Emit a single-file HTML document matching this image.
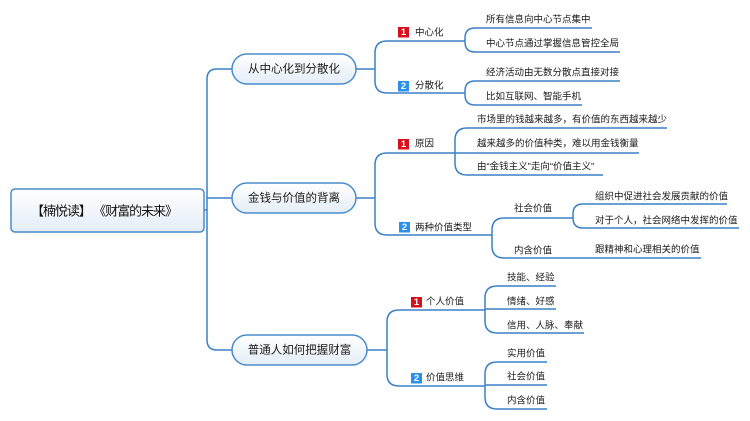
<!DOCTYPE html>
<html><head><meta charset="utf-8">
<style>
html,body{margin:0;padding:0;background:#fff;}
svg{display:block;}
text{font-family:"Liberation Sans","Noto Sans CJK SC",sans-serif;fill:#1a1a1a;}
.s{font-size:9.5px;}
.m{font-size:11.5px;}
.b{font-size:9.5px;font-weight:bold;fill:#fff;}
</style></head>
<body>
<svg width="750" height="421" viewBox="0 0 750 421" xmlns="http://www.w3.org/2000/svg">
<defs>
<linearGradient id="g" x1="0" y1="0" x2="0" y2="1">
<stop offset="0" stop-color="#ffffff"/>
<stop offset="1" stop-color="#e4edf7"/>
</linearGradient>
</defs>
<g fill="none" stroke="#3b80c6" stroke-width="1.5">
<path d="M232 69 H217 Q207 69 207 79 V340 Q207 350 217 350 H232"/>
<path d="M207 198 H232"/>
<path d="M204 210 H207"/>
<path d="M356 69 H375"/>
<path d="M465 41 H387 Q375 41 375 53 V81 Q375 93 387 93 H465"/>
<path d="M592 28 H475 Q465 28 465 38 V42 Q465 52 475 52 H620"/>
<path d="M620 81 H475 Q465 81 465 91 V95 Q465 105 475 105 H582"/>
<path d="M356 198 H375"/>
<path d="M455 153 H387 Q375 153 375 165 V223 Q375 235 387 235 H492"/>
<path d="M667 128 H467 Q455 128 455 140 V163 Q455 175 467 175 H603"/>
<path d="M455 153 H639"/>
<path d="M573 218 H504 Q492 218 492 230 V246 Q492 258 504 258 H701"/>
<path d="M727 204 H583 Q573 204 573 214 V218 Q573 228 583 228 H739"/>
<path d="M367 350 H387"/>
<path d="M485 310 H399 Q387 310 387 322 V374 Q387 386 399 386 H485"/>
<path d="M556 286 H497 Q485 286 485 298 V321 Q485 333 497 333 H584"/>
<path d="M485 309 H556"/>
<path d="M547 362 H497 Q485 362 485 374 V397 Q485 409 497 409 H547"/>
<path d="M485 385 H547"/>
</g>
<rect x="11" y="189" width="193" height="43" rx="4" fill="url(#g)" stroke="#4a8ccb" stroke-width="1.5"/>
<text x="31" y="211" dominant-baseline="central" textLength="147" lengthAdjust="spacing" style="font-size:13px;fill:#111">【楠悦读】 《财富的未来》</text>
<rect x="232" y="54" width="124" height="30" rx="15" fill="url(#g)" stroke="#4a8ccb" stroke-width="1.5"/>
<text class="m" x="294" y="69.5" text-anchor="middle" dominant-baseline="central">从中心化到分散化</text>
<rect x="232" y="183" width="124" height="30" rx="15" fill="url(#g)" stroke="#4a8ccb" stroke-width="1.5"/>
<text class="m" x="294" y="198.5" text-anchor="middle" dominant-baseline="central">金钱与价值的背离</text>
<rect x="232" y="335" width="135" height="30" rx="15" fill="url(#g)" stroke="#4a8ccb" stroke-width="1.5"/>
<text class="m" x="299.5" y="350.5" text-anchor="middle" dominant-baseline="central">普通人如何把握财富</text>
<rect x="398" y="27" width="11" height="10.5" fill="#d4101c"/><text class="b" x="403.5" y="32.5" text-anchor="middle" dominant-baseline="central">1</text>
<rect x="398" y="81" width="11" height="10.5" fill="#2a90ea"/><text class="b" x="403.5" y="86.5" text-anchor="middle" dominant-baseline="central">2</text>
<rect x="398" y="139" width="11" height="10.5" fill="#d4101c"/><text class="b" x="403.5" y="144.5" text-anchor="middle" dominant-baseline="central">1</text>
<rect x="399" y="222" width="11" height="10.5" fill="#2a90ea"/><text class="b" x="404.5" y="227.5" text-anchor="middle" dominant-baseline="central">2</text>
<rect x="411" y="297" width="11" height="10.5" fill="#d4101c"/><text class="b" x="416.5" y="302.5" text-anchor="middle" dominant-baseline="central">1</text>
<rect x="411" y="373" width="11" height="10.5" fill="#2a90ea"/><text class="b" x="416.5" y="378.5" text-anchor="middle" dominant-baseline="central">2</text>
<g>
<text class="s" x="415" y="33" dominant-baseline="central">中心化</text>
<text class="s" x="415" y="86" dominant-baseline="central">分散化</text>
<text class="s" x="486" y="20" dominant-baseline="central">所有信息向中心节点集中</text>
<text class="s" x="486" y="44" dominant-baseline="central">中心节点通过掌握信息管控全局</text>
<text class="s" x="486" y="73" dominant-baseline="central">经济活动由无数分散点直接对接</text>
<text class="s" x="486" y="97" dominant-baseline="central">比如互联网、智能手机</text>
<text class="s" x="415" y="144" dominant-baseline="central">原因</text>
<text class="s" x="415" y="228" dominant-baseline="central">两种价值类型</text>
<text class="s" x="477" y="120" dominant-baseline="central">市场里的钱越来越多，有价值的东西越来越少</text>
<text class="s" x="477" y="144" dominant-baseline="central">越来越多的价值种类，难以用金钱衡量</text>
<text class="s" x="477" y="167" dominant-baseline="central">由“金钱主义”走向“价值主义”</text>
<text class="s" x="514" y="209" dominant-baseline="central">社会价值</text>
<text class="s" x="514" y="251" dominant-baseline="central">内含价值</text>
<text class="s" x="595" y="197" dominant-baseline="central">组织中促进社会发展贡献的价值</text>
<text class="s" x="595" y="221" dominant-baseline="central">对于个人，社会网络中发挥的价值</text>
<text class="s" x="595" y="250" dominant-baseline="central">跟精神和心理相关的价值</text>
<text class="s" x="426" y="302" dominant-baseline="central">个人价值</text>
<text class="s" x="426" y="378" dominant-baseline="central">价值思维</text>
<text class="s" x="507" y="278" dominant-baseline="central">技能、经验</text>
<text class="s" x="507" y="302" dominant-baseline="central">情绪、好感</text>
<text class="s" x="507" y="326" dominant-baseline="central">信用、人脉、奉献</text>
<text class="s" x="507" y="354" dominant-baseline="central">实用价值</text>
<text class="s" x="507" y="377" dominant-baseline="central">社会价值</text>
<text class="s" x="507" y="401" dominant-baseline="central">内含价值</text>
</g>
</svg>
</body></html>
